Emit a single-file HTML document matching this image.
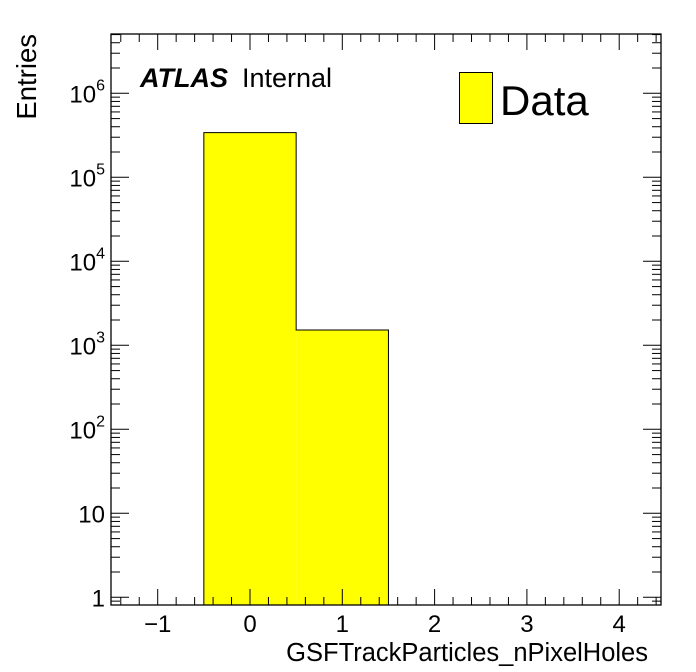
<!DOCTYPE html>
<html><head><meta charset="utf-8"><style>
html,body{margin:0;padding:0;background:#fff;}
svg{display:block;font-family:"Liberation Sans",sans-serif;}
</style></head><body>
<svg id="chart" width="696" height="672" viewBox="0 0 696 672" xmlns="http://www.w3.org/2000/svg"></svg>
<script>
const binLows = [-0.5, 0.5];
const binHighs = [0.5, 1.5];
const binCounts = [340000, 1520];
const xTickValues = [-1, 0, 1, 2, 3, 4];
const xTickLabels = ["\u22121", "0", "1", "2", "3", "4"];
const yTickExps = [0, 1, 2, 3, 4, 5, 6];
const yTickLabels = ["1", "10", "10^2", "10^3", "10^4", "10^5", "10^6"];

const L = 111, R = 661, T = 34, B = 605;
const X0 = 250, XU = 92.3;
const Y1 = 597.3, YD = 84;
function sx(v){ return X0 + v * XU; }
function sy(v){ return Y1 - Math.log10(v) * YD; }
const xmin = (L - X0) / XU, xmax = (R - X0) / XU;
const lmin = (Y1 - B) / YD, lmax = (Y1 - T) / YD;

const svg = document.getElementById('chart');
const NS = 'http://www.w3.org/2000/svg';
function mk(tag, attrs, parent){
  const e = document.createElementNS(NS, tag);
  for (const k in attrs) e.setAttribute(k, attrs[k]);
  (parent || svg).appendChild(e);
  return e;
}

// bars (fill) + step outline
const bars = mk('g', {});


let d = '';
binCounts.forEach((c, i) => {
  const x1 = sx(binLows[i]), x2 = sx(binHighs[i]);
  const y = sy(c);
  const r = mk('rect', {x: x1, y: y, width: x2 - x1, height: B - y, fill: '#ffff00'}, bars);
  
  
  d += (i === 0 ? 'M' + x1 + ' ' + B + ' ' : '') + 'L' + x1 + ' ' + y + ' L' + x2 + ' ' + y + ' ';
});
d += 'L' + sx(binHighs[binHighs.length - 1]) + ' ' + B;
const outline = mk('path', {d: d, fill: 'none', stroke: '#000', 'stroke-width': 1}, bars);



// frame
const frame = mk('rect', {x: L, y: T, width: R - L, height: B - T, fill: 'none', stroke: '#000', 'stroke-width': 1.3});



// x ticks
const xt = mk('g', {stroke: '#000', 'stroke-width': 1});


for (let k = Math.ceil(xmin * 5); k <= Math.floor(xmax * 5); k++) {
  const v = k / 5, x = sx(v);
  const len = (k % 5 === 0) ? 16 : 8;
  mk('line', {x1: x, y1: B, x2: x, y2: B - len}, xt);
  mk('line', {x1: x, y1: T, x2: x, y2: T + len}, xt);
}
const xl = mk('g', {'font-size': 24, 'text-anchor': 'middle', fill: '#000'});


xTickValues.forEach((v, i) => {
  const t = mk('text', {x: sx(v), y: 632}, xl);
  t.textContent = xTickLabels[i];
  
  
});

// y ticks
const yt = mk('g', {stroke: '#000', 'stroke-width': 1});


for (let dd = Math.floor(lmin); dd <= Math.ceil(lmax); dd++) {
  for (let m = 1; m <= 9; m++) {
    const lv = dd + Math.log10(m);
    if (lv < lmin || lv > lmax) continue;
    const y = Y1 - lv * YD;
    const len = (m === 1) ? 18 : 9;
    mk('line', {x1: L, y1: y, x2: L + len, y2: y}, yt);
    mk('line', {x1: R, y1: y, x2: R - len, y2: y}, yt);
  }
}
const yl = mk('g', {'font-size': 24, 'text-anchor': 'end', fill: '#000'});


yTickExps.forEach((e, i) => {
  const y = Y1 - e * YD + 9;
  const lab = yTickLabels[i];
  const t = mk('text', {x: 105, y: y}, yl);
  
  
  if (lab.indexOf('^') >= 0) {
    const [b, p] = lab.split('^');
    const s1 = mk('tspan', {}, t); s1.textContent = b;
    const s2 = mk('tspan', {dy: -12, 'font-size': 16}, t); s2.textContent = p;
  } else {
    t.textContent = lab;
  }
});

// titles
const xTitle = mk('text', {x: 648, y: 661, 'font-size': 25.5, 'text-anchor': 'end'});
xTitle.textContent = 'GSFTrackParticles_nPixelHoles';


const yTitle = mk('text', {x: 0, y: 0, 'font-size': 27.5, 'text-anchor': 'end', transform: 'translate(36,34) rotate(-90)'});
yTitle.textContent = 'Entries';



// ATLAS label
const atlas = mk('text', {x: 140, y: 87, 'font-size': 27});


const a1 = mk('tspan', {'font-weight': 'bold', 'font-style': 'italic'}, atlas); a1.textContent = 'ATLAS';
const a2 = mk('tspan', {dx: 14}, atlas); a2.textContent = 'Internal';

// legend
const leg = mk('g', {});


mk('rect', {x: 459.5, y: 72.5, width: 33, height: 51, fill: '#ffff00', stroke: '#000', 'stroke-width': 1}, leg);
const lt = mk('text', {x: 500, y: 115, 'font-size': 42}, leg);
lt.textContent = 'Data';
</script>
</body></html>
